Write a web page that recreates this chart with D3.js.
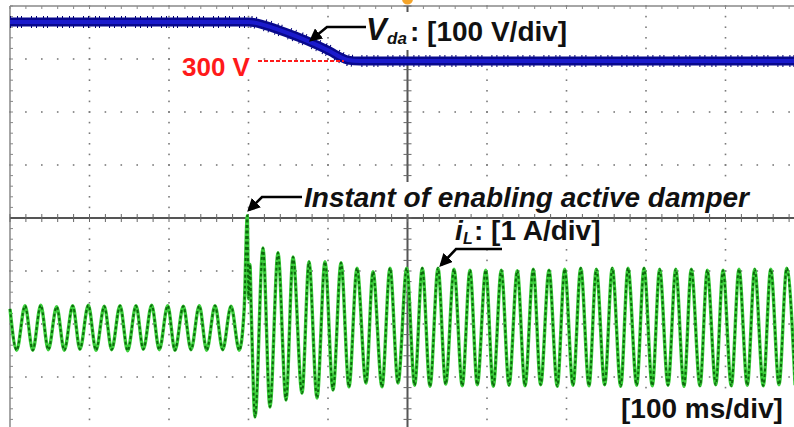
<!DOCTYPE html>
<html>
<head>
<meta charset="utf-8">
<script src="https://cdn.jsdelivr.net/npm/d3@7"></script>
<style>
  body { margin: 0; background: #fff; }
  svg { display: block; font-family: "Liberation Sans", Arial, sans-serif; }
</style>
</head>
<body>
<svg width="794" height="427"></svg>
<script>
// V_da trace: time (ms) and volts
const vTime = [0, 120, 300, 320, 340, 365, 385, 403, 415, 425, 440, 700, 1000];
const vVolt = [374, 374, 374, 368, 358, 344, 331, 318, 308, 302, 300, 300, 300];

// i_L trace: time (ms) of each read point and amps
const iTime = [0, 8.4, 18.9, 28.6, 38.7, 48.2, 58.7, 68.3, 78.9, 88.0, 98.5, 108.2, 118.6, 127.9,
  138.4, 148.0, 158.5, 167.7, 178.2, 187.8, 198.4, 207.5, 218.0, 227.7, 238.1, 247.4, 257.9, 267.5,
  278.0, 288.4, 294.5, 298.5, 300.0, 301.8, 303.5, 308.2, 318.2, 327.0, 337.1, 347.2, 356.0, 367.3,
  376.1, 386.2, 396.2, 406.3, 416.4, 426.4, 436.5, 447.8, 456.6, 467.9, 478.0, 488.1, 499.0, 509.0,
  518.6, 528.3, 538.4, 548.0, 558.5, 568.9, 578.6, 587.8, 598.4, 607.9, 618.0, 627.7, 638.1, 647.8,
  658.2, 667.5, 678.0, 688.4, 697.7, 708.2, 717.9, 728.3, 737.5, 748.0, 757.6, 768.2, 777.4, 788.3,
  797.5, 807.9, 817.2, 827.7, 837.4, 847.8, 857.0, 867.9, 877.1, 887.7, 896.9, 907.3, 917.0, 927.4,
  936.7, 947.5, 956.9, 967.3, 977.0, 987.5];
const iAmp = [0.36, -0.42, 0.42, -0.42, 0.43, -0.41, 0.40, -0.42, 0.42, -0.40, 0.43, -0.42, 0.41, -0.41,
  0.42, -0.43, 0.42, -0.40, 0.43, -0.41, 0.42, -0.42, 0.41, -0.41, 0.42, -0.42, 0.42, -0.41,
  0.41, -0.42, 0.34, 2.12, 0.55, 1.20, 0.30, -1.68, 1.51, -1.49, 1.42, -1.36, 1.34, -1.23,
  1.25, -1.32, 1.25, -1.17, 1.23, -1.11, 1.13, -1.04, 1.06, -1.11, 1.13, -1.04, 1.13, -1.08,
  1.13, -1.10, 1.13, -1.06, 1.11, -1.09, 1.09, -1.07, 1.09, -1.10, 1.09, -1.08, 1.08, -1.09,
  1.11, -1.07, 1.09, -1.10, 1.11, -1.08, 1.13, -1.09, 1.11, -1.07, 1.13, -1.10, 1.13, -1.08,
  1.13, -1.09, 1.11, -1.08, 1.11, -1.10, 1.11, -1.09, 1.09, -1.07, 1.09, -1.09, 1.11, -1.08,
  1.11, -1.09, 1.11, -1.07, 1.13, -1.08];

const refVolt = 300;
const vName = 'V', vSub = 'da', vScaleText = ': [100 V/div]';
const iName = 'i', iSub = 'L', iScaleText = ': [1 A/div]';
const refText = '300 V';
const eventText = 'Instant of enabling active damper';
const timeText = '[100 ms/div]';

const svg = d3.select('svg');
const width = +svg.attr('width');
const height = +svg.attr('height');

// scope screen: 10 x 8 divisions
const margin = { left: 10, top: 6 };
const divW = 79.5, divH = 53;
const gx = d3.scaleLinear().domain([0, 10]).range([margin.left, margin.left + 10 * divW]);
const gy = d3.scaleLinear().domain([0, 8]).range([margin.top, margin.top + 8 * divH]);

const x = d3.scaleLinear().domain([0, 1000]).range(gx.range());            // 100 ms/div
const yV = d3.scaleLinear().domain([-396, 404]).range([gy(8), gy(0)]);     // 100 V/div
const yI = d3.scaleLinear().domain([-1.925, 6.075]).range([gy(8), gy(0)]); // 1 A/div

const grid = svg.append('g');
const minorX = d3.range(0, 50).map(d => d / 5);
const minorY = d3.range(0, 41).map(d => d / 5);

// dotted graticule
[1, 2, 3, 4, 6, 7, 8, 9].forEach(i => {
  grid.append('g').selectAll('rect').data(minorY).enter().append('rect')
    .attr('x', gx(i) - 0.8).attr('y', d => gy(d) - 0.8)
    .attr('width', 1.6).attr('height', 1.6).attr('fill', '#7a7a7a');
});
[1, 2, 3, 5, 6, 7].forEach(k => {
  grid.append('g').selectAll('rect').data(minorX).enter().append('rect')
    .attr('x', d => gx(d) - 0.8).attr('y', gy(k) - 0.8)
    .attr('width', 1.6).attr('height', 1.6).attr('fill', '#7a7a7a');
});

// borders with small ticks
grid.append('line').attr('x1', gx(0)).attr('x2', width).attr('y1', gy(0)).attr('y2', gy(0))
  .attr('stroke', '#888').attr('stroke-width', 1.5);
grid.append('line').attr('x1', gx(0)).attr('x2', gx(0)).attr('y1', gy(0)).attr('y2', height)
  .attr('stroke', '#888').attr('stroke-width', 1.5);
grid.append('g').selectAll('line').data(minorX).enter().append('line')
  .attr('x1', d => gx(d)).attr('x2', d => gx(d)).attr('y1', gy(0)).attr('y2', gy(0) + 3)
  .attr('stroke', '#888');
grid.append('g').selectAll('line').data(minorY).enter().append('line')
  .attr('x1', gx(0)).attr('x2', gx(0) + 3).attr('y1', d => gy(d)).attr('y2', d => gy(d))
  .attr('stroke', '#888');

// centre axes
grid.append('line').attr('x1', gx(0)).attr('x2', width).attr('y1', gy(4)).attr('y2', gy(4))
  .attr('stroke', '#555').attr('stroke-width', 2);
grid.append('line').attr('x1', gx(5)).attr('x2', gx(5)).attr('y1', gy(0)).attr('y2', height)
  .attr('stroke', '#555').attr('stroke-width', 2);
grid.append('g').selectAll('line').data(minorX).enter().append('line')
  .attr('x1', d => gx(d)).attr('x2', d => gx(d)).attr('y1', gy(4) - 4).attr('y2', gy(4) + 4)
  .attr('stroke', '#666');
grid.append('g').selectAll('line').data(minorY).enter().append('line')
  .attr('x1', gx(5) - 4).attr('x2', gx(5) + 4).attr('y1', d => gy(d)).attr('y2', d => gy(d))
  .attr('stroke', '#666');

// trigger marker
svg.append('circle').attr('cx', x(500)).attr('cy', -1).attr('r', 5.5).attr('fill', '#f4a42a');

// traces
const vData = vTime.map((t, i) => ({ t, v: vVolt[i] }));
const iData = iTime.map((t, i) => ({ t, v: iAmp[i] }));

const vLine = d3.line().x(d => x(d.t)).y(d => yV(d.v)).curve(d3.curveMonotoneX);
const iLine = d3.line().x(d => x(d.t)).y(d => yI(d.v)).curve(d3.curveMonotoneX);

svg.append('path').datum(vData).attr('d', vLine).attr('fill', 'none')
  .attr('stroke', '#000070').attr('stroke-width', 12).attr('stroke-dasharray', '1 6 1 3 1 9 1 4');
svg.append('path').datum(vData).attr('d', vLine).attr('fill', 'none')
  .attr('stroke', '#08088c').attr('stroke-width', 9);
svg.append('path').datum(vData).attr('d', vLine).attr('fill', 'none')
  .attr('stroke', '#1a1acc').attr('stroke-width', 4);

svg.append('path').datum(iData).attr('d', iLine).attr('fill', 'none')
  .attr('stroke', '#3ccf3c').attr('stroke-width', 3.4).attr('stroke-linejoin', 'round');
svg.append('path').datum(iData).attr('d', iLine).attr('fill', 'none')
  .attr('stroke', '#0c6a0c').attr('stroke-width', 2).attr('stroke-dasharray', '3 2.5')
  .attr('stroke-linejoin', 'round');

// reference level
svg.append('line').attr('x1', 258).attr('x2', x(420)).attr('y1', yV(refVolt)).attr('y2', yV(refVolt))
  .attr('stroke', '#ff1a1a').attr('stroke-width', 2).attr('stroke-dasharray', '4 2');

// annotation backgrounds
const boxes = [[362, 12, 206, 38], [180, 55, 76, 24], [300, 182, 458, 32], [452, 219, 150, 28], [618, 394, 168, 33]];
svg.append('g').selectAll('rect').data(boxes).enter().append('rect')
  .attr('x', d => d[0]).attr('y', d => d[1]).attr('width', d => d[2]).attr('height', d => d[3])
  .attr('fill', '#fff');

const txt = svg.append('g').attr('fill', '#111').attr('font-weight', 'bold');

txt.append('text').attr('x', 366).attr('y', 40).attr('font-size', 31).attr('font-style', 'italic').text(vName);
txt.append('text').attr('x', 387).attr('y', 44).attr('font-size', 17).attr('font-style', 'italic').text(vSub);
txt.append('text').attr('x', 410).attr('y', 41).attr('font-size', 28).text(vScaleText);

txt.append('text').attr('x', 182).attr('y', 76).attr('font-size', 26).attr('fill', '#ff1a1a').text(refText);

txt.append('text').attr('x', 304).attr('y', 207).attr('font-size', 28).attr('font-style', 'italic').text(eventText);

txt.append('text').attr('x', 455).attr('y', 240).attr('font-size', 28).attr('font-style', 'italic').text(iName);
txt.append('text').attr('x', 463).attr('y', 244).attr('font-size', 16).attr('font-style', 'italic').text(iSub);
txt.append('text').attr('x', 474).attr('y', 240).attr('font-size', 28).text(iScaleText);

txt.append('text').attr('x', 621).attr('y', 418).attr('font-size', 28).text(timeText);

// arrows
svg.append('defs').append('marker').attr('id', 'head')
  .attr('viewBox', '0 0 10 10').attr('refX', 8).attr('refY', 5)
  .attr('markerWidth', 5).attr('markerHeight', 5).attr('orient', 'auto')
  .append('path').attr('d', 'M0,0L10,5L0,10Z').attr('fill', '#000');

const arrows = [
  [[366, 27], [327, 27], [311, 40]],
  [[302, 197], [262, 197], [249, 210]],
  [[502, 249], [456, 249], [441, 265]]
];
svg.append('g').selectAll('path').data(arrows).enter().append('path')
  .attr('d', d3.line()).attr('fill', 'none').attr('stroke', '#000').attr('stroke-width', 2.6)
  .attr('marker-end', 'url(#head)');
</script>
</body>
</html>
